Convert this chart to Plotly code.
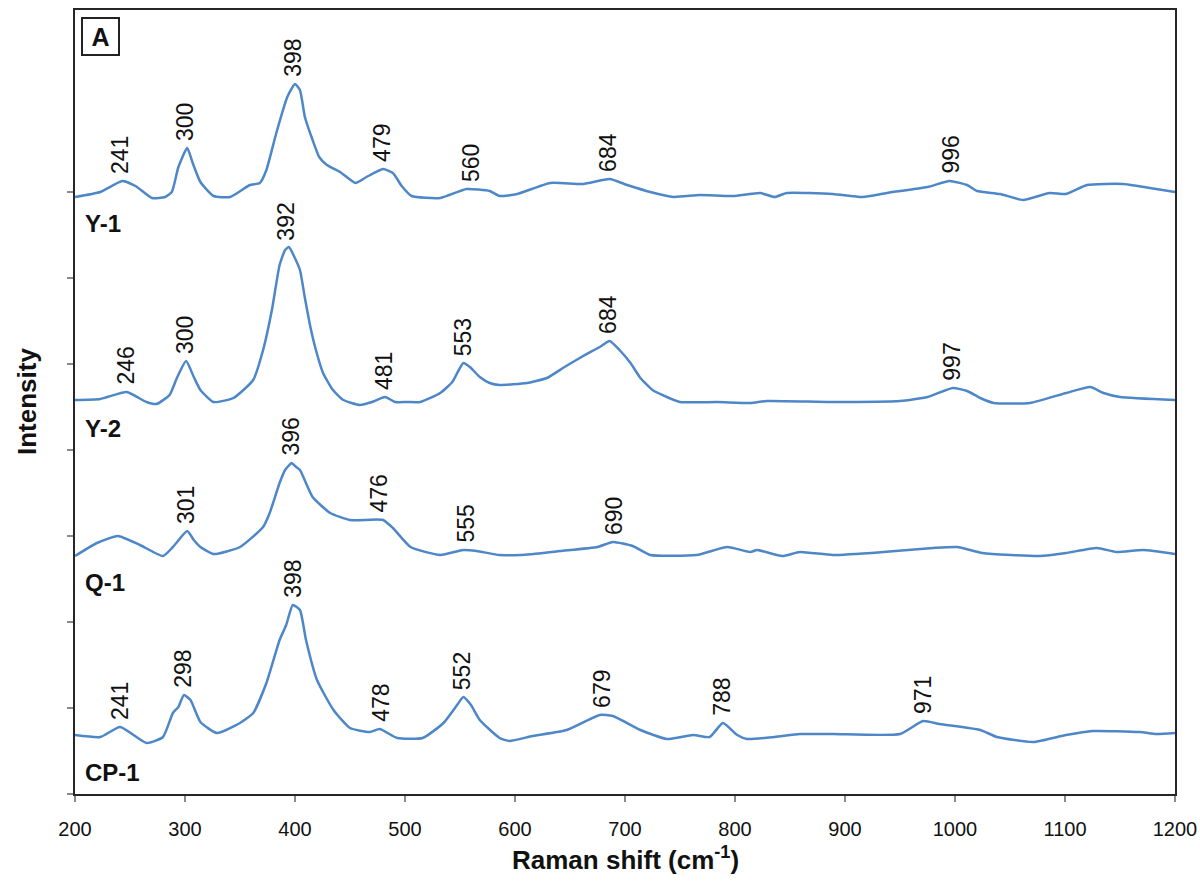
import numpy as np
import plotly.graph_objects as go

# ---------------- data (Raman shift in cm-1, intensity in offset a.u.) ----------------
y1_shift = [200, 223, 243, 255, 270, 282, 288, 294, 302, 307, 314, 326, 341, 359, 368, 374, 383, 393, 400,
            404.5, 409, 416, 422, 429, 441, 455, 465, 480, 489, 497, 506, 532, 556, 577, 586, 602, 632, 662,
            686, 702, 723, 744, 768, 798, 823, 836, 847, 889, 916, 938, 975, 995, 1011, 1020, 1041, 1062,
            1086, 1101, 1120, 1153, 1183, 1200]
y1_int = [597, 602, 613, 608, 596, 597, 602, 627, 646, 631, 612, 598, 597, 609, 611, 624, 661, 697, 710,
          704, 677, 654, 637, 629, 622, 611, 617, 625, 621, 608, 598, 596, 605, 603, 598, 600, 611, 610,
          615, 609, 602, 597, 599, 598, 601, 597, 601, 600, 597, 601, 607, 613, 609, 603, 600, 594,
          601, 600, 609, 610, 605, 602]

y2_shift = [200, 223, 247, 265, 274, 286, 293, 301, 308, 314, 326, 344, 362, 371, 379, 386, 391, 394.5, 399,
            404.5, 409, 414, 419, 425.5, 434.5, 444, 459, 470, 482, 491, 502, 514, 532, 543, 553, 559, 568,
            577, 586, 611, 629, 645, 662, 677, 686, 695, 705, 714, 725, 738, 750, 784, 814, 829, 889, 950,
            975, 998, 1011, 1023, 1035, 1068, 1101, 1123, 1135, 1150, 1200]
y2_int = [394, 395, 402, 392, 390, 399, 417, 433, 417, 404, 392, 396, 414, 444, 484, 529, 544, 547, 538,
          524, 496, 467, 444, 421, 404, 394, 389, 392, 397, 392, 392, 392, 401, 412, 431, 427, 417,
          411, 409, 411, 416, 427, 438, 447, 453, 444, 431, 416, 404, 397, 392, 392, 391, 393, 392, 393,
          397, 406, 403, 396, 391, 391, 401, 407, 401, 397, 394]

q1_shift = [200, 220, 239, 259, 280, 289, 302, 308, 314, 326, 350, 371, 377, 386, 391, 397, 400, 404.5, 416,
            432, 450, 480, 489, 505, 532, 553, 565, 586, 605, 641, 675, 689, 707, 723, 765, 793, 814, 820,
            843, 859, 889, 935, 980, 1002, 1025, 1077, 1101, 1129, 1147, 1171, 1200]
q1_int = [238, 251, 258, 249, 238, 247, 263, 254, 247, 240, 247, 267, 281, 311, 324, 331, 328, 324, 297,
          281, 274, 274, 266, 247, 239, 244, 243, 239, 239, 243, 247, 252, 248, 239, 239, 247, 242, 244,
          238, 242, 239, 242, 246, 247, 241, 238, 241, 246, 242, 244, 240]

cp1_shift = [200, 223, 241, 265, 280, 289, 294, 299, 305, 314, 329, 350, 362, 374, 386, 392, 398, 404.5, 410,
             420, 435, 450, 468, 477, 493, 516, 535, 548, 553, 560, 568, 586, 595, 616, 647, 677, 689, 714,
             738, 762, 777, 789, 802, 811, 836, 859, 889, 950, 971, 986, 1023, 1038, 1071, 1101, 1125,
             1168, 1183, 1200]
cp1_int = [59, 57, 67, 51, 57, 81, 87, 99, 94, 72, 61, 71, 81, 111, 154, 169, 189, 184, 154,
           114, 84, 66, 62, 65, 56, 56, 71, 90, 97, 89, 74, 56, 53, 58, 64, 79, 78, 64,
           55, 59, 57, 71, 59, 55, 57, 60, 60, 60, 73, 70, 64, 57, 52, 59, 63,
           62, 60, 61]

sample_names = ["Y-1", "Y-2", "Q-1", "CP-1"]
y1_peaks = [241, 300, 398, 479, 560, 684, 996]
y2_peaks = [246, 300, 392, 481, 553, 684, 997]
q1_peaks = [301, 396, 476, 555, 690]
cp1_peaks = [241, 298, 398, 478, 552, 679, 788, 971]

x_ticks = [200, 300, 400, 500, 600, 700, 800, 900, 1000, 1100, 1200]

# ---------------- figure ----------------
LINE = "#4d87c7"
FONT = "Liberation Sans, Arial"
series = [(y1_shift, y1_int, y1_peaks), (y2_shift, y2_int, y2_peaks),
          (q1_shift, q1_int, q1_peaks), (cp1_shift, cp1_int, cp1_peaks)]
name_y = [571, 366, 212, 22]

fig = go.Figure()
annotations = []
for (sx, si, pk), nm, ny in zip(series, sample_names, name_y):
    fig.add_trace(go.Scatter(x=sx, y=si, mode="lines", name=nm,
                             line=dict(color=LINE, width=2.5, shape="spline", smoothing=0.5),
                             showlegend=False, hoverinfo="x+y"))
    for p in pk:
        yy = float(np.max(np.interp(np.linspace(p - 3, p + 3, 7), sx, si)))
        annotations.append(dict(x=p, y=yy, xref="x", yref="y", text=str(p), textangle=-90,
                                showarrow=False, xanchor="center", yanchor="bottom", yshift=5,
                                font=dict(family=FONT, size=23, color="#111")))
    annotations.append(dict(x=0.007, y=ny, xref="paper", yref="y", text="<b>%s</b>" % nm,
                            showarrow=False, xanchor="left", yanchor="middle",
                            font=dict(family=FONT, size=24, color="#111")))

annotations.append(dict(x=0.0236, y=0.9656, xref="paper", yref="paper", text="<b>A</b>",
                        showarrow=False, xanchor="center", yanchor="middle", width=35, height=35,
                        bordercolor="#222", borderwidth=2, borderpad=0, bgcolor="white",
                        font=dict(family=FONT, size=25, color="#111")))
annotations.append(dict(x=0.5, y=-0.082, xref="paper", yref="paper",
                        text="<b>Raman shift (cm<sup>-1</sup>)</b>", showarrow=False,
                        xanchor="center", yanchor="middle",
                        font=dict(family=FONT, size=26, color="#111")))
annotations.append(dict(x=-0.0436, y=0.5, xref="paper", yref="paper", text="<b>Intensity</b>",
                        textangle=-90, showarrow=False, xanchor="center", yanchor="middle",
                        font=dict(family=FONT, size=26, color="#111")))

fig.update_layout(
    width=1200, height=888,
    margin=dict(l=75, r=25, t=10, b=94, autoexpand=False),
    paper_bgcolor="white", plot_bgcolor="white",
    annotations=annotations,
    xaxis=dict(range=[200, 1200], tickvals=x_ticks, ticktext=[str(v) for v in x_ticks],
               automargin=False,
               showline=True, linecolor="#262626", linewidth=2, mirror=True,
               ticks="outside", ticklen=6, tickwidth=1.5, tickcolor="#8a8a8a",
               ticklabelstandoff=10,
               showgrid=False, zeroline=False,
               tickfont=dict(family=FONT, size=20, color="#111")),
    yaxis=dict(range=[0, 784], tickvals=[0, 86, 172, 258, 344, 430, 516, 602], showticklabels=False,
               automargin=False,
               showline=True, linecolor="#262626", linewidth=2, mirror=True,
               ticks="outside", ticklen=6, tickwidth=1.5, tickcolor="#8a8a8a",
               showgrid=False, zeroline=False),
)

fig.write_html("out.html")
